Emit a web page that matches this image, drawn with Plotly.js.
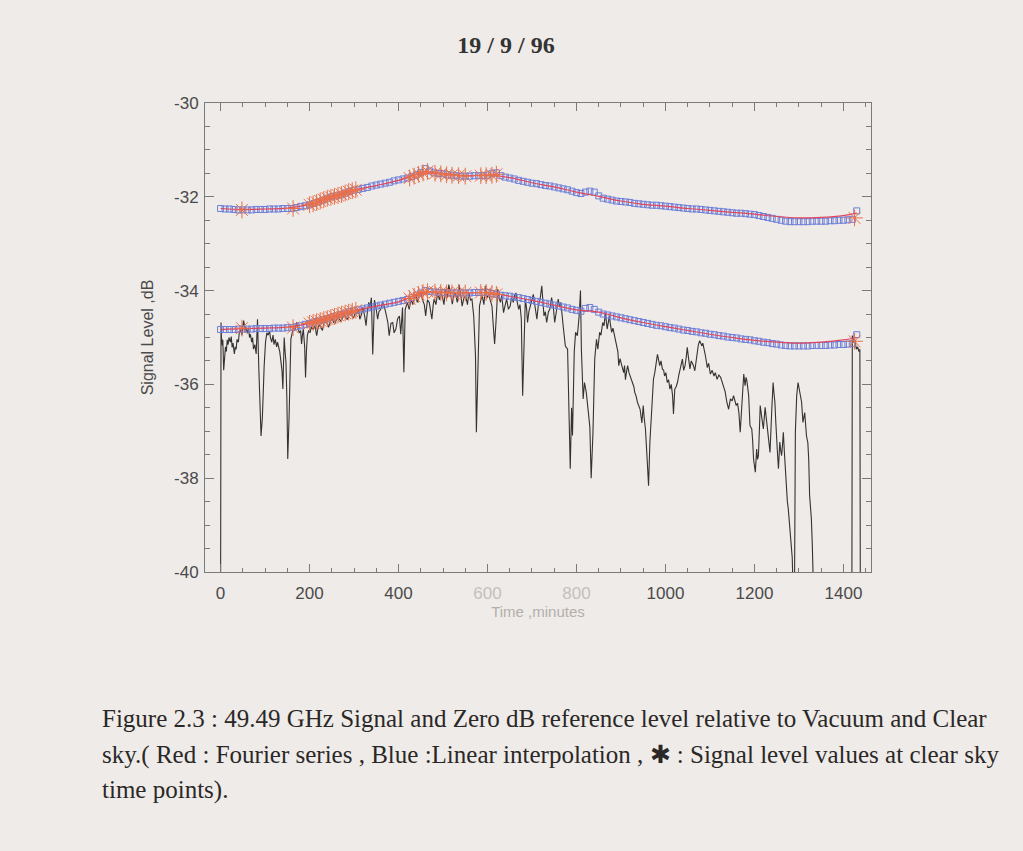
<!DOCTYPE html>
<html>
<head>
<meta charset="utf-8">
<script src="https://cdn.plot.ly/plotly-3.0.1.min.js"></script>
<style>
html,body{margin:0;padding:0;background:#efebe8;}
#chart{width:1023px;height:851px;}
</style>
</head>
<body>
<div id="chart"></div>
<script>
// ---- Data ----
// Measured 49.49 GHz signal: [time (min), level (dB)]
const signalPoints = [
[0,-41],[1,-34.68],[2,-35.0],[4,-35.17],[5,-35.05],[7,-35.7],[9,-35.4],[11,-35.2],[13,-35.3],[15,-35.05],
[17,-35.15],[19,-35.0],[22,-35.1],[24,-34.98],[26,-35.21],[28,-35.12],[31,-35.35],[33,-35.2],[35,-35.25],[37,-35.04],
[40,-35.1],[42,-34.9],[45,-34.82],[48,-34.95],[50,-34.75],[52,-34.64],[55,-34.85],[57,-34.78],[60,-34.9],[63,-34.8],
[65,-35.0],[67,-34.93],[70,-35.1],[72,-35.0],[74,-35.25],[77,-35.15],[80,-35.35],[83,-34.61],[86,-35.67],[88,-36.2],
[91,-37.1],[94,-36.7],[96,-36.0],[98,-35.6],[101,-35.1],[104,-34.9],[107,-34.95],[110,-34.86],[112,-35.0],[115,-35.1],
[118,-34.95],[120,-35.15],[123,-35.04],[126,-35.2],[128,-35.1],[130,-35.18],[133,-35.3],[135,-35.46],[138,-35.7],[140,-36.1],
[143,-35.0],[145,-35.3],[147,-35.53],[149,-36.3],[151,-37.59],[154,-36.7],[156,-35.8],[158,-35.04],[161,-34.9],[164,-34.79],
[167,-34.85],[169,-34.72],[171,-34.68],[174,-34.8],[177,-34.9],[180,-34.85],[182,-35.14],[184,-34.95],[186,-34.82],[189,-35.2],
[191,-35.85],[193,-35.3],[195,-34.96],[198,-34.85],[201,-34.9],[204,-34.78],[208,-34.82],[212,-34.75],[216,-34.96],[219,-34.8],
[222,-34.72],[226,-34.8],[229,-34.85],[232,-34.7],[236,-34.62],[240,-34.72],[243,-34.78],[247,-34.65],[250,-34.58],[254,-34.68],
[257,-34.7],[261,-34.6],[264,-34.52],[268,-34.62],[271,-34.66],[275,-34.55],[278,-34.5],[282,-34.58],[285,-34.62],[289,-34.5],
[292,-34.45],[296,-34.55],[299,-34.58],[303,-34.46],[306,-34.5],[310,-34.4],[313,-34.61],[317,-34.5],[320,-34.36],[324,-34.55],
[327,-34.75],[330,-34.45],[333,-34.25],[336,-34.35],[339,-34.15],[342,-35.36],[344,-34.6],[346,-34.2],[350,-34.4],[353,-34.61],
[356,-34.45],[360,-34.4],[364,-34.25],[368,-34.33],[372,-34.5],[376,-34.68],[379,-34.96],[383,-34.7],[387,-34.68],[390,-34.9],
[394,-34.82],[398,-34.6],[402,-34.54],[405,-34.93],[409,-34.36],[412,-35.74],[415,-34.4],[418,-34.3],[420,-34.25],[424,-34.4],
[428,-34.18],[432,-34.3],[435,-34.12],[439,-34.08],[442,-34.25],[446,-34.1],[450,-34.05],[454,-34.2],[458,-34.3],[461,-34.54],
[465,-34.2],[469,-34.25],[472,-34.4],[475,-34.61],[478,-34.3],[480,-34.18],[484,-34.3],[488,-34.05],[492,-34.2],[495,-34.05],
[499,-34.14],[502,-34.3],[506,-33.97],[510,-34.15],[513,-33.87],[517,-34.1],[521,-34.29],[524,-34.1],[528,-34.05],[532,-34.25],
[536,-33.87],[540,-34.1],[543,-34.33],[547,-34.15],[551,-34.12],[555,-34.3],[558,-34.05],[562,-34.2],[565,-34.18],[569,-34.54],
[573,-35.39],[575,-37.02],[578,-35.75],[582,-34.33],[585,-34.2],[588,-34.11],[592,-34.3],[595,-33.9],[599,-34.15],[603,-34.08],
[606,-34.2],[610,-34.33],[614,-34.89],[616,-35.14],[619,-34.68],[623,-33.97],[626,-34.15],[629,-34.25],[632,-34.1],[636,-34.47],
[640,-34.3],[643,-34.18],[647,-34.4],[651,-34.33],[654,-34.15],[658,-34.25],[661,-34.1],[664,-34.05],[667,-34.25],[670,-34.4],
[673,-34.3],[676,-34.61],[679,-36.24],[682,-35.3],[685,-34.18],[688,-34.4],[690,-34.68],[693,-34.45],[696,-34.33],[700,-34.2],
[703,-34.08],[707,-34.35],[711,-34.61],[714,-34.33],[718,-34.2],[722,-33.9],[725,-34.3],[727,-34.54],[730,-34.45],[733,-34.68],
[737,-34.45],[740,-34.4],[744,-34.15],[748,-34.35],[751,-34.68],[755,-34.4],[759,-34.18],[762,-34.35],[765,-34.25],[770,-34.75],
[775,-35.18],[780,-35.25],[784,-36.67],[786,-37.8],[789,-36.5],[791,-37.09],[795,-35.3],[798,-34.89],[802,-34.96],[806,-34.54],
[809,-34.0],[811,-35.25],[815,-36.31],[818,-35.96],[822,-36.17],[826,-36.53],[830,-36.9],[833,-38.0],[837,-37.04],[841,-35.46],
[845,-35.04],[848,-35.25],[852,-34.89],[855,-34.95],[859,-34.68],[862,-34.75],[865,-34.47],[869,-34.82],[874,-34.54],[876,-34.7],
[879,-34.89],[882,-34.8],[885,-34.96],[888,-35.05],[890,-35.18],[893,-35.3],[895,-35.6],[898,-35.45],[900,-35.53],[903,-35.65],
[906,-35.75],[908,-35.6],[910,-35.9],[913,-35.7],[915,-35.6],[918,-35.75],[921,-35.82],[924,-35.9],[926,-35.96],[929,-36.05],
[931,-36.17],[934,-36.25],[937,-36.38],[940,-36.45],[943,-36.53],[947,-36.82],[950,-36.45],[952,-36.7],[955,-36.95],[958,-37.45],
[962,-38.16],[965,-37.23],[969,-36.45],[973,-35.89],[976,-35.75],[978,-35.6],[982,-35.36],[985,-35.5],[987,-35.6],[990,-35.5],
[993,-35.67],[996,-35.7],[998,-35.82],[1001,-35.75],[1004,-35.96],[1007,-35.9],[1010,-36.1],[1013,-36.0],[1016,-36.24],[1018,-36.63],
[1021,-36.1],[1024,-36.05],[1027,-35.96],[1030,-35.8],[1033,-35.67],[1036,-35.55],[1038,-35.46],[1041,-35.7],[1044,-35.6],[1047,-35.4],
[1049,-35.21],[1052,-35.45],[1055,-35.67],[1058,-35.5],[1060,-35.53],[1063,-35.6],[1066,-35.71],[1069,-35.5],[1071,-35.25],[1074,-35.15],
[1077,-35.07],[1080,-35.15],[1082,-35.18],[1084,-35.12],[1086,-35.25],[1090,-35.4],[1094,-35.64],[1097,-35.55],[1101,-35.78],[1105,-35.7],
[1109,-35.82],[1112,-35.75],[1116,-35.89],[1120,-35.8],[1124,-35.85],[1127,-35.95],[1131,-36.03],[1134,-36.15],[1138,-36.38],[1142,-36.53],
[1146,-36.31],[1150,-36.35],[1153,-36.24],[1156,-36.35],[1159,-36.45],[1162,-36.4],[1165,-36.6],[1168,-37.02],[1172,-36.31],[1174,-36.0],
[1176,-35.78],[1179,-36.03],[1181,-35.85],[1183,-35.92],[1187,-36.24],[1190,-36.88],[1194,-36.95],[1196,-37.2],[1198,-37.59],[1202,-37.87],
[1205,-37.38],[1207,-37.6],[1209,-37.52],[1211,-37.0],[1213,-36.45],[1216,-36.67],[1218,-36.8],[1220,-36.95],[1224,-36.49],[1227,-36.74],
[1229,-36.9],[1231,-37.1],[1233,-37.3],[1235,-37.45],[1239,-36.53],[1242,-35.96],[1244,-36.2],[1246,-36.38],[1248,-36.8],[1250,-37.3],
[1252,-37.5],[1254,-37.8],[1257,-37.23],[1259,-37.4],[1261,-37.52],[1263,-37.3],[1265,-37.02],[1267,-37.4],[1269,-37.8],[1272,-38.3],
[1274,-38.5],[1276,-38.65],[1278,-38.85],[1280,-39.08],[1283,-39.44],[1285,-39.7],[1287,-40.5],[1290,-40.5],[1292,-37.02],[1293,-36.6],
[1295,-36.24],[1298,-35.96],[1300,-36.05],[1302,-36.17],[1304,-36.3],[1306,-36.38],[1309,-36.81],[1311,-36.7],[1313,-36.6],[1315,-36.85],
[1317,-37.1],[1320,-37.24],[1322,-37.6],[1324,-38.37],[1326,-38.6],[1328,-38.87],[1330,-39.4],[1333,-40.5],[1419,-40.5],[1420,-34.96],
[1423,-35.1],[1426,-35.05],[1429,-35.25],[1432,-35.2],[1435,-35.3],[1437,-35.25],[1438,-40.5]
];

// Linear interpolation (blue squares), sampled every 10 min from t = 0
const blueUpper = [
-32.25,-32.26,-32.26,-32.27,-32.28,-32.28,-32.28,-32.28,-32.27,-32.27,
-32.27,-32.26,-32.26,-32.26,-32.25,-32.25,-32.25,-32.23,-32.21,-32.19,
-32.17,-32.14,-32.11,-32.07,-32.03,-32.00,-31.98,-31.96,-31.92,-31.89,
-31.86,-31.84,-31.82,-31.80,-31.77,-31.75,-31.73,-31.71,-31.69,-31.66,
-31.64,-31.62,-31.60,-31.57,-31.53,-31.48,-31.40,-31.45,-31.49,-31.50,
-31.51,-31.53,-31.54,-31.55,-31.56,-31.56,-31.56,-31.55,-31.55,-31.55,
-31.54,-31.50,-31.49,-31.55,-31.58,-31.60,-31.62,-31.65,-31.67,-31.69,
-31.71,-31.72,-31.74,-31.76,-31.77,-31.79,-31.81,-31.83,-31.85,-31.88,
-31.91,-31.93,-31.90,-31.88,-31.90,-31.98,-32.03,-32.05,-32.07,-32.09,
-32.10,-32.11,-32.12,-32.14,-32.15,-32.16,-32.17,-32.18,-32.18,-32.19,
-32.20,-32.21,-32.22,-32.23,-32.24,-32.25,-32.26,-32.26,-32.27,-32.28,
-32.29,-32.30,-32.31,-32.32,-32.33,-32.34,-32.35,-32.35,-32.36,-32.37,
-32.38,-32.40,-32.42,-32.44,-32.46,-32.48,-32.50,-32.52,-32.53,-32.53,
-32.53,-32.53,-32.53,-32.52,-32.52,-32.52,-32.52,-32.51,-32.51,-32.50,
-32.50,-32.49,-32.48,-32.30];
const blueLower = [
-34.83,-34.83,-34.83,-34.83,-34.82,-34.82,-34.82,-34.82,-34.81,-34.81,
-34.81,-34.81,-34.80,-34.80,-34.80,-34.79,-34.79,-34.77,-34.75,-34.72,
-34.70,-34.67,-34.65,-34.62,-34.60,-34.57,-34.54,-34.51,-34.48,-34.45,
-34.43,-34.41,-34.39,-34.37,-34.35,-34.33,-34.31,-34.29,-34.27,-34.25,
-34.23,-34.21,-34.19,-34.15,-34.10,-34.05,-34.00,-34.02,-34.03,-34.04,
-34.04,-34.05,-34.05,-34.05,-34.05,-34.05,-34.05,-34.04,-34.04,-34.04,
-34.04,-34.06,-34.08,-34.10,-34.11,-34.12,-34.14,-34.15,-34.17,-34.19,
-34.21,-34.23,-34.25,-34.27,-34.29,-34.31,-34.33,-34.35,-34.37,-34.40,
-34.42,-34.44,-34.38,-34.36,-34.40,-34.46,-34.50,-34.52,-34.54,-34.56,
-34.58,-34.60,-34.62,-34.64,-34.66,-34.68,-34.70,-34.72,-34.74,-34.75,
-34.77,-34.79,-34.80,-34.82,-34.84,-34.85,-34.87,-34.88,-34.90,-34.91,
-34.93,-34.94,-34.96,-34.97,-34.99,-35.00,-35.01,-35.03,-35.04,-35.05,
-35.07,-35.08,-35.10,-35.11,-35.13,-35.14,-35.16,-35.17,-35.18,-35.18,
-35.18,-35.18,-35.18,-35.17,-35.17,-35.17,-35.17,-35.16,-35.16,-35.15,
-35.15,-35.14,-35.13,-34.94];

// Fourier series (red lines)
const fourierT = [0,50,100,150,200,250,300,350,400,450,500,550,600,650,700,750,800,850,900,950,1000,1050,1100,1150,1200,1250,1300,1350,1400,1430];
const redUpper = [-32.25,-32.27,-32.26,-32.24,-32.16,-32.0,-31.86,-31.76,-31.65,-31.5,-31.5,-31.55,-31.54,-31.59,-31.7,-31.79,-31.9,-31.99,-32.09,-32.16,-32.2,-32.25,-32.29,-32.33,-32.37,-32.42,-32.45,-32.44,-32.4,-32.35];
const redLower = [-34.83,-34.81,-34.8,-34.78,-34.7,-34.56,-34.43,-34.33,-34.24,-34.06,-34.03,-34.05,-34.05,-34.12,-34.21,-34.31,-34.41,-34.46,-34.58,-34.68,-34.77,-34.85,-34.93,-35.0,-35.06,-35.1,-35.12,-35.1,-35.05,-35.0];

// Clear-sky time points (asterisks)
const clearT = [48,163,200,208,216,224,232,240,248,256,264,272,280,288,296,304,425,435,445,455,465,482,495,508,520,535,550,585,597,610,620,1425];
const clearUpper = [-32.28,-32.25,-32.17,-32.15,-32.12,-32.09,-32.06,-32.03,-32.01,-31.99,-31.97,-31.95,-31.92,-31.89,-31.87,-31.85,-31.6,-31.56,-31.52,-31.49,-31.46,-31.5,-31.51,-31.53,-31.54,-31.55,-31.56,-31.55,-31.55,-31.54,-31.52,-32.45];
const clearLower = [-34.8,-34.79,-34.7,-34.68,-34.66,-34.64,-34.62,-34.6,-34.57,-34.55,-34.52,-34.5,-34.48,-34.46,-34.44,-34.42,-34.17,-34.12,-34.08,-34.04,-34.02,-34.03,-34.04,-34.05,-34.05,-34.05,-34.05,-34.04,-34.04,-34.06,-34.08,-35.08];

// Axis ticks
const xTickVals = [0,200,400,600,800,1000,1200,1400];
const xTickText = ['0','200','400','<span style="color:#c4c0bc">600</span>','<span style="color:#c4c0bc">800</span>','1000','1200','1400'];
const yTickVals = [-40,-38,-36,-34,-32,-30];
const yTickText = ['-40','-38','-36','-34','-32','-30'];

const chartTitle = '19 / 9 / 96';
const captionLines = [
  'Figure 2.3 : 49.49 GHz Signal and Zero dB reference level relative to Vacuum and Clear',
  'sky.( Red : Fourier series , Blue :Linear interpolation , \u2731 : Signal level values at clear sky',
  'time points).'
];

// ---- Traces ----
const sigT = signalPoints.map(p => p[0]);
const sigV = signalPoints.map(p => p[1]);
const blueStyle = {symbol:'square-open', size:6, color:'#6d7fd8', line:{width:1}};
const starStyle = {symbol:'asterisk-open', size:14, color:'#e8704a', line:{width:1, color:'#e8704a'}};
const traces = [
  {x:sigT, y:sigV, type:'scatter', mode:'lines', line:{color:'#333333', width:1.1}},
  {y:blueUpper, x0:0, dx:10, type:'scatter', mode:'markers', marker:blueStyle},
  {y:blueLower, x0:0, dx:10, type:'scatter', mode:'markers', marker:blueStyle},
  {x:fourierT, y:redUpper, type:'scatter', mode:'lines', line:{color:'#e0465e', width:1.2, shape:'spline'}},
  {x:fourierT, y:redLower, type:'scatter', mode:'lines', line:{color:'#e0465e', width:1.2, shape:'spline'}},
  {x:clearT, y:clearUpper, type:'scatter', mode:'markers', marker:starStyle},
  {x:clearT, y:clearLower, type:'scatter', mode:'markers', marker:starStyle}
];

// ---- Layout ----
const L = 205, R = 871, T = 103, B = 572;
function px2paperX(px){ return (px - L)/(R - L); }
function px2paperY(py){ return (B - py)/(B - T); }

const captionFont = {family:'Liberation Serif, Times New Roman, serif', size:25, color:'#2a2827'};
const annotations = captionLines.map((txt, i) => ({
  text: txt, xref:'paper', yref:'paper',
  x: px2paperX(100), y: px2paperY([718, 755, 790][i]),
  xanchor:'left', yanchor:'middle', showarrow:false, font: captionFont
}));

const axisCommon = {
  showline:true, linecolor:'#7a7a7a', linewidth:1, mirror:'allticks',
  ticks:'inside', tickcolor:'#7a7a7a', tickwidth:1,
  showgrid:false, zeroline:false,
  tickfont:{family:'Liberation Sans, Arial, sans-serif', size:17, color:'#4a4a4a'}
};

const layout = {
  width:1023, height:851,
  margin:{l:L, r:1023-R, t:T, b:851-B, pad:0},
  paper_bgcolor:'#efebe8', plot_bgcolor:'#efebe8',
  showlegend:false,
  title:{text:chartTitle, x:506/1023, y:1-45/851, xref:'container', yref:'container',
         xanchor:'center', yanchor:'middle',
         font:{family:'Liberation Serif, Times New Roman, serif', size:24, weight:'bold', color:'#333333'}},
  xaxis: Object.assign({}, axisCommon, {
    range:[-35, 1462], tickmode:'array', tickvals:xTickVals, ticktext:xTickText,
    ticklen:8, ticklabelstandoff:6,
    minor:{dtick:50, tick0:0, ticks:'inside', ticklen:4, tickcolor:'#7a7a7a'},
    title:{text:'Time ,minutes', standoff:4,
           font:{family:'Liberation Sans, Arial, sans-serif', size:15, color:'#b3afab'}}
  }),
  yaxis: Object.assign({}, axisCommon, {
    range:[-40, -30], tickmode:'array', tickvals:yTickVals, ticktext:yTickText,
    ticklen:9, ticklabelstandoff:2,
    minor:{dtick:0.5, tick0:0, ticks:'inside', ticklen:5, tickcolor:'#7a7a7a'},
    title:{text:'Signal Level ,dB', standoff:16,
           font:{family:'Liberation Sans, Arial, sans-serif', size:16, color:'#4a4a4a'}}
  }),
  annotations: annotations
};

Plotly.newPlot('chart', traces, layout, {displayModeBar:false, staticPlot:true});
</script>
</body>
</html>
